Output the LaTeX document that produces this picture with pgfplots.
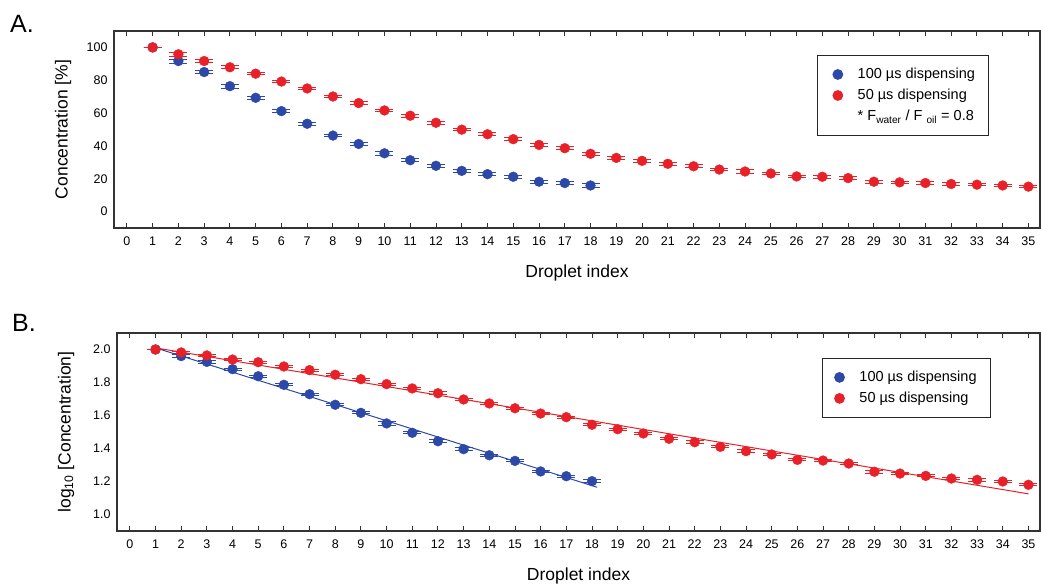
\documentclass[border=0pt]{standalone}
\usepackage{pgfplots}
\pgfplotsset{compat=1.18}
\usepackage{fontspec}
\setmainfont{Liberation Sans}

\definecolor{dotblue}{RGB}{44,72,168}
\definecolor{dotred}{RGB}{232,32,40}

\pgfplotsset{
  panel/.style={
    scale only axis,
    xmin=-0.5, xmax=35.45,
    xtick={0,...,35},
    tick align=inside,
    major tick length=5pt,
    y tick style={draw=none},
    x tick style={line width=0.9pt, black!80},
    axis line style={line width=1.1pt, black!80},
    /pgf/number format/assume math mode=true,
    tick label style={font=\fontsize{12.5}{14}\selectfont},
    xticklabel style={yshift=-5pt},
    yticklabel style={xshift=-3pt},
    xlabel={Droplet index},
    every axis x label/.style={at={(axis description cs:0.5,0)}, anchor=center, yshift=-45pt,
      font=\fontsize{17.5}{20}\selectfont},
    every axis y label/.style={at={(axis description cs:0,0.5)}, rotate=90, anchor=center, yshift=51pt,
      font=\fontsize{17.5}{20}\selectfont},
    legend cell align=left,
    legend style={font=\fontsize{14.5}{17}\selectfont, draw=black!85, line width=0.9pt,
      inner xsep=12pt, inner ysep=11pt, row sep=5pt, anchor=north west,
      /tikz/every odd column/.append style={column sep=13pt}},
  },
  % error bars drawn as a short stem with a wide horizontal cap, in the series colour
  dots/.style={only marks, mark=*, mark size=4.9pt, color=#1,
    error bars/.cd, y dir=both, y explicit,
    draw error bar/.code 2 args={\draw[#1, line width=1pt] ##1 -- ##2 ++(-9pt,0) -- ++(18pt,0);}},
}

\pgfplotstableread{
x  c     e
1  100   0.0
2  91.7  1.2
3  85.0  1.0
4  76.4  1.2
5  69.3  0.8
6  61.2  1.0
7  53.5  0.8
8  46.3  0.8
9  41.2  0.8
10 35.5  1.3
11 31.3  0.8
12 27.9  1.0
13 24.8  1.0
14 22.8  0.8
15 21.2  0.8
16 18.2  0.8
17 17.4  0.8
18 15.9  1.0
}\blueA

\pgfplotstableread{
x  c     e
1  100   0.0
2  95.8  1.4
3  91.7  0.8
4  87.9  0.8
5  84.0  0.8
6  79.2  0.8
7  75.0  0.8
8  70.1  0.8
9  66.1  0.8
10 61.6  0.8
11 58.4  0.8
12 54.1  1.0
13 49.9  0.8
14 47.1  0.8
15 44.1  1.0
16 40.6  0.8
17 38.6  0.8
18 35.2  0.8
19 32.7  0.8
20 30.9  0.8
21 29.1  0.8
22 27.6  1.0
23 25.6  0.8
24 24.4  1.0
25 23.2  0.8
26 21.4  0.8
27 21.2  0.8
28 20.4  0.8
29 18.2  1.0
30 17.8  0.8
31 17.4  0.8
32 16.8  0.8
33 16.4  0.8
34 15.9  0.8
35 15.2  0.8
}\redA

\pgfplotstableread{
x  c      e
1  2.000  0.000
2  1.960  0.008
3  1.925  0.008
4  1.881  0.006
5  1.838  0.006
6  1.786  0.006
7  1.729  0.006
8  1.665  0.006
9  1.616  0.006
10 1.552  0.010
11 1.495  0.006
12 1.444  0.008
13 1.396  0.008
14 1.359  0.006
15 1.325  0.006
16 1.261  0.006
17 1.232  0.006
18 1.202  0.010
}\blueB

\pgfplotstableread{
x  c      e
1  2.000  0.000
2  1.982  0.006
3  1.964  0.006
4  1.939  0.006
5  1.923  0.006
6  1.897  0.006
7  1.875  0.006
8  1.847  0.006
9  1.820  0.006
10 1.790  0.006
11 1.764  0.006
12 1.735  0.008
13 1.697  0.006
14 1.673  0.006
15 1.644  0.006
16 1.612  0.006
17 1.590  0.006
18 1.544  0.006
19 1.517  0.006
20 1.491  0.006
21 1.459  0.006
22 1.438  0.008
23 1.410  0.006
24 1.384  0.008
25 1.364  0.006
26 1.331  0.006
27 1.327  0.006
28 1.309  0.006
29 1.259  0.010
30 1.248  0.006
31 1.234  0.006
32 1.218  0.008
33 1.210  0.008
34 1.200  0.008
35 1.180  0.006
}\redB

\begin{document}
\begin{tikzpicture}
\useasboundingbox (0,0) rectangle (1041pt,585pt);

% panel A
\begin{axis}[panel,
  at={(114pt,357pt)}, anchor=south west,
  width=926pt, height=197pt,
  ymin=-10, ymax=110,
  ytick={0,20,...,100},
  ylabel={Concentration [\%]},
  legend style={at={(0.759,0.878)}},
]
\addplot[dots=dotblue] table[x=x, y=c, y error=e] {\blueA};
\addlegendentry{100 µs dispensing}
\addplot[dots=dotred] table[x=x, y=c, y error=e] {\redA};
\addlegendentry{50 µs dispensing}
\addlegendimage{empty legend}
\addlegendentry{* F\textsubscript{water} / F \textsubscript{oil} = 0.8}
\end{axis}

% panel B
\begin{axis}[panel,
  at={(117pt,54pt)}, anchor=south west,
  width=923pt, height=198pt,
  ymin=0.9, ymax=2.1,
  ytick={1.0,1.2,1.4,1.6,1.8,2.0},
  yticklabel style={/pgf/number format/.cd, fixed, fixed zerofill, precision=1},
  ylabel={log\textsubscript{10} [Concentration]},
  legend style={at={(0.764,0.874)}},
]
\addplot[dots=dotblue] table[x=x, y=c, y error=e] {\blueB};
\addlegendentry{100 µs dispensing}
\addplot[dots=dotred] table[x=x, y=c, y error=e] {\redB};
\addlegendentry{50 µs dispensing}
\addplot[dotblue, line width=1pt, forget plot] coordinates {(1,2.01) (18.2,1.165)};
\addplot[dotred, line width=1pt, forget plot] coordinates {(1,2.01) (35,1.125)};
\end{axis}

\node[anchor=base west, font=\fontsize{25}{28}\selectfont, inner sep=0pt] at (10pt,552pt) {A.};
\node[anchor=base west, font=\fontsize{25}{28}\selectfont, inner sep=0pt] at (12pt,253pt) {B.};
\end{tikzpicture}
\end{document}
